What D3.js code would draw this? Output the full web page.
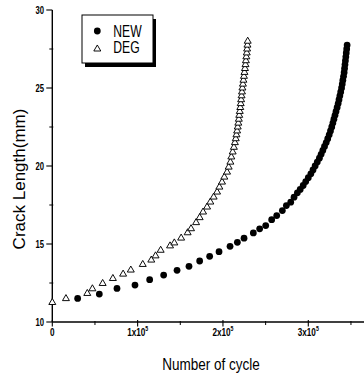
<!DOCTYPE html>
<html><head><meta charset="utf-8">
<script src="https://cdn.jsdelivr.net/npm/d3@7"></script>
<style>body{margin:0;background:#fff}svg{display:block}</style>
</head><body><svg id="c" width="364" height="378"></svg>
<script>
// Series: NEW (filled circles)
const newCycles = [29700,55100,75800,96900,114100,130500,146200,160200,172700,184400,195400,208300,216900,224700,235600,243000,250100,257100,263000,269600,274300,279400,283300,287200,
  290500,294000,297000,300000,303000,305500,308000,310500,313000,315000,317000,319000,321000,322800,324500,326000,327500,328800,330000,331300,332500,333800,335000,336000,337000,338000,339000,339800,340500,341300,342000,342500,343000,343500,344000,344500,345000,345500];
const newLength = [11.51,11.79,12.15,12.37,12.71,13.01,13.31,13.57,13.91,14.21,14.51,14.85,15.11,15.37,15.71,15.97,16.18,16.56,16.82,17.14,17.46,17.68,18.0,18.28,
  18.5,18.75,19.0,19.25,19.5,19.75,20.0,20.25,20.5,20.75,21.0,21.25,21.5,21.75,22.0,22.25,22.5,22.75,23.0,23.25,23.5,23.75,24.0,24.25,24.5,24.75,25.0,25.25,25.5,25.75,26.0,26.25,26.5,26.75,27.0,27.25,27.5,27.75];
// Series: DEG (open triangles)
const degCycles = [0,16000,41000,47000,59000,71000,83000,92000,106000,116000,121000,127000,138000,143000,151000,158600,162600,168500,172700,176700,181400,185200,189100,193100,195800,198900,201600,204800,206700,208700,209800,211400,
  212800,214000,215000,215800,216600,217300,218000,218600,219100,219700,220300,220800,221300,221800,222300,222800,223400,224000,224600,225200,225800,226400,226900,227400,227900,228300,228700,229000];
const degLength = [11.25,11.5,11.83,12.13,12.47,12.79,13.07,13.33,13.69,13.97,14.24,14.6,14.88,15.07,15.38,15.72,15.98,16.37,16.69,17.05,17.37,17.69,18.01,18.33,18.65,18.97,19.29,19.61,19.93,20.25,20.58,20.9,
  21.2,21.5,21.75,22.0,22.25,22.5,22.75,23.0,23.25,23.5,23.75,24.0,24.25,24.5,24.75,25.0,25.25,25.5,25.75,26.0,26.25,26.5,26.75,27.0,27.25,27.5,27.75,28.0];
const seriesNames = ["NEW","DEG"];
const xMajorTicks = [0,100000,200000,300000];
const xMinorTicks = [50000,150000,250000,350000];
const yMajorTicks = [10,15,20,25,30];
const yMinorTicks = [12.5,17.5,22.5,27.5];
const xTitle = "Number of cycle";
const yTitle = "Crack Length(mm)";

const svg = d3.select("#c");
const x = d3.scaleLinear().domain([0,400000]).range([52.3, 52.3 + 4*85.33]);
const y = d3.scaleLinear().domain([10,30]).range([322,10]);
const FONT = "'Liberation Sans', Arial, sans-serif";

// axes lines
svg.append("line").attr("x1",x(0)).attr("x2",364).attr("y1",y(10)).attr("y2",y(10)).attr("stroke","#000").attr("stroke-width",1.4);
svg.append("line").attr("x1",x(0)).attr("x2",x(0)).attr("y1",y(10)).attr("y2",y(30)).attr("stroke","#000").attr("stroke-width",1.4);

// x ticks
svg.selectAll(".xmaj").data(xMajorTicks).join("line")
  .attr("x1",d=>x(d)).attr("x2",d=>x(d)).attr("y1",y(10)-2).attr("y2",y(10)+4.5).attr("stroke","#000").attr("stroke-width",1.1);
svg.selectAll(".xmin").data(xMinorTicks).join("line")
  .attr("x1",d=>x(d)).attr("x2",d=>x(d)).attr("y1",y(10)-1).attr("y2",y(10)+3).attr("stroke","#000").attr("stroke-width",1);
// y ticks
svg.selectAll(".ymaj").data(yMajorTicks).join("line")
  .attr("x1",x(0)-6).attr("x2",x(0)).attr("y1",d=>y(d)).attr("y2",d=>y(d)).attr("stroke","#000").attr("stroke-width",1.1);
svg.selectAll(".ymin").data(yMinorTicks).join("line")
  .attr("x1",x(0)-3).attr("x2",x(0)+1).attr("y1",d=>y(d)).attr("y2",d=>y(d)).attr("stroke","#000").attr("stroke-width",1);

// y tick labels
svg.selectAll(".ylab").data(yMajorTicks).join("text")
  .attr("transform",d=>`translate(44,${y(d)+3.6}) scale(0.77,1)`)
  .attr("text-anchor","end").attr("font-family",FONT).attr("font-size",10).attr("font-weight","bold")
  .text(d=>d);
// x tick labels
xMajorTicks.forEach(d=>{
  const t = svg.append("text")
    .attr("transform",`translate(${x(d)},335.5) scale(0.8,1)`)
    .attr("text-anchor","middle").attr("font-family",FONT).attr("font-size",10.2).attr("font-weight","bold");
  if (d===0) { t.text("0"); }
  else {
    t.append("tspan").text((d/100000)+"x10");
    t.append("tspan").attr("dy",-4.5).attr("font-size",6.5).text("5");
  }
});

// axis titles
svg.append("text").attr("transform","translate(211,370) scale(0.83,1)")
  .attr("text-anchor","middle").attr("font-family",FONT).attr("font-size",16.3).text(xTitle);
svg.append("text").attr("transform","translate(25,179) rotate(-90)")
  .attr("text-anchor","middle").attr("font-family",FONT).attr("font-size",17).text(yTitle);

// data
const degData = degCycles.map((c,i)=>({c, l:degLength[i]}));
const newData = newCycles.map((c,i)=>({c, l:newLength[i]}));
const tri = d3.symbol().type(d3.symbolTriangle).size(21);
const circ = d3.symbol().type(d3.symbolCircle).size(36);

svg.selectAll(".deg").data(degData).join("path")
  .attr("d",tri).attr("transform",d=>`translate(${x(d.c)},${y(d.l)})`)
  .attr("fill","#fff").attr("stroke","#000").attr("stroke-width",0.95);
svg.selectAll(".new").data(newData).join("path")
  .attr("d",circ).attr("transform",d=>`translate(${x(d.c)},${y(d.l)})`)
  .attr("fill","#000");

// legend
svg.append("rect").attr("x",85).attr("y",19).attr("width",71).attr("height",48).attr("fill","#000");
svg.append("rect").attr("x",82).attr("y",15).attr("width",71).attr("height",48).attr("fill","#fff").attr("stroke","#000").attr("stroke-width",1);
svg.append("path").attr("d",circ).attr("transform","translate(97.3,31)").attr("fill","#000");
svg.append("path").attr("d",tri).attr("transform","translate(97.3,49)").attr("fill","#fff").attr("stroke","#000").attr("stroke-width",0.95);
seriesNames.forEach((n,i)=>{
  svg.append("text").attr("transform",`translate(113.3,${i===0?36.7:53.3}) scale(0.76,1)`)
    .attr("font-family",FONT).attr("font-size",16).text(n);
});
</script></body></html>
